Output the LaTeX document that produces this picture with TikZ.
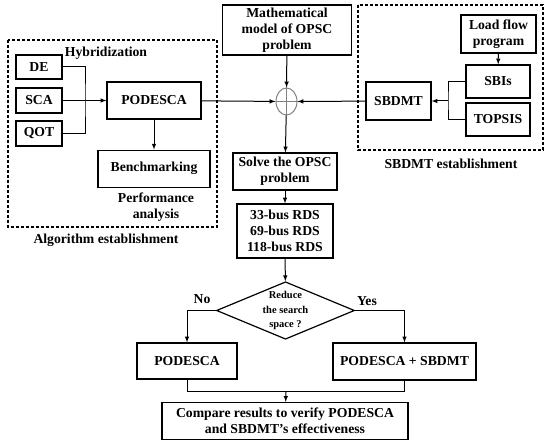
\documentclass[tikz,border=0pt]{standalone}
\usepackage{fontspec}
\setmainfont{Liberation Serif}
\usetikzlibrary{shapes.geometric}
\usetikzlibrary{positioning}
\tikzset{%
  flowarrow/.style = {-latex,line width=1pt},
  flowline/.style = {line width=1pt},
  frame/.style = {draw,dashed,dash pattern=on 3pt off 2pt,line width=1.2pt},
  r/.style = {rectangle,draw,solid,line width=1.2pt,align=center,
        inner sep=1pt},
  dia/.style = {diamond,draw,solid,line width=1.2pt,align=center,
        aspect=2.4,inner sep=0pt,font=\fontsize{10.5}{14.5}\selectfont\bfseries},
  lbl/.style = {align=center}
}

\begin{document}
\begin{tikzpicture}[x=1pt,y=-1pt]\fontsize{13.7}{16}\selectfont\bfseries
   \useasboundingbox (0,0) rectangle (550,446);
   % algorithm establishment
   \draw[frame] (8,40) rectangle (217,227);
   \node[lbl] (hybrid) at (106,53) {Hybridization};
   \node[r,minimum width=46pt,minimum height=24pt] (de) at (39,67) {DE};
   \node[r,minimum width=46pt,minimum height=25pt] (sca) at (39,100.5) {SCA};
   \node[r,minimum width=46pt,minimum height=25pt] (qot) at (39,133.5) {QOT};
   \node[r,minimum width=94pt,minimum height=37pt] (podesca) at (154,100.5) {PODESCA};
   \node[r,minimum width=112pt,minimum height=37pt] (bench) [below=30pt of podesca] {Benchmarking};
   \node[lbl] (perf) at (156,207) {Performance\\analysis};
   \node[lbl] (alglabel) at (106,240) {Algorithm establishment};
   \coordinate (hyb) at (85,100.5);

   % problem model and sum junction
   \node[r,minimum width=129pt,minimum height=50pt] (model) at (287,30) {Mathematical\\model of OPSC\\problem};
   \node[ellipse,draw=gray,line width=1pt,minimum width=21pt,minimum height=27pt,inner sep=0pt] (sum) at (286.5,101.5) {};

   % SBDMT establishment
   \draw[frame] (358,5) rectangle (543,150);
   \node[r,minimum width=75pt,minimum height=38pt] (load) at (498.5,34) {Load flow\\program};
   \node[r,minimum width=64pt,minimum height=33pt] (sbis) at (498,81.5) {SBIs};
   \node[r,minimum width=64pt,minimum height=33pt] (topsis) at (498,119.5) {TOPSIS};
   \node[r,minimum width=65pt,minimum height=38pt] (sbdmt) at (398.5,101) {SBDMT};
   \node[lbl] (sbdmtlabel) at (451,164) {SBDMT establishment};
   \coordinate (sbj) at (448,101);

   % solving chain
   \node[r,minimum width=104pt,minimum height=37pt] (solve) at (285,171.5) {Solve the OPSC\\problem};
   \node[r,minimum width=96pt,minimum height=54pt] (rds) at (285,231) {33-bus RDS\\69-bus RDS\\118-bus RDS};
   \node[dia,minimum width=133pt] (reduce) at (285.5,310.5) {Reduce\\the search\\space ?};
   \node[lbl] (no) at (202,299) {No};
   \node[lbl] (yes) at (367,301) {Yes};
   \node[r,minimum width=100pt,minimum height=36pt] (podesca2) at (187,361) {PODESCA};
   \node[r,minimum width=143pt,minimum height=37pt] (both) at (404.5,361.5) {PODESCA + SBDMT};
   \node[r,minimum width=246pt,minimum height=37pt] (compare) at (285,421) {Compare results to verify PODESCA\\and SBDMT's effectiveness};
   \coordinate (mrg) at (286,392);

   \draw[flowline] (de.east) -| (hyb) |- (qot.east);
   \draw[flowarrow] (sca) -- (podesca);
   \draw[flowarrow] (podesca) -- (bench);
   \draw[flowarrow] (podesca) -- (sum);
   \draw[flowarrow] (model) -- (sum);
   \draw[flowarrow] (sbdmt) -- (sum);
   \draw[gray,line width=0.8pt] (sum.north) -- (sum.south) (sum.west) -- (sum.east);
   \draw[flowarrow] (load) -- (sbis);
   \draw[flowline] (sbis.west) -| (sbj) |- (topsis.west);
   \draw[flowarrow] (sbj) -- (sbdmt);
   \draw[flowarrow] (sum) -- (solve);
   \draw[flowarrow] (solve) -- (rds);
   \draw[flowarrow] (rds) -- (reduce);
   \draw[flowarrow] (reduce.west) -| (podesca2.north);
   \draw[flowarrow] (reduce.east) -| (both.north);
   \draw[flowline] (podesca2.south) |- (mrg);
   \draw[flowline] (both.south) |- (mrg);
   \draw[flowarrow] (mrg) -- (compare);
\end{tikzpicture}
\end{document}
